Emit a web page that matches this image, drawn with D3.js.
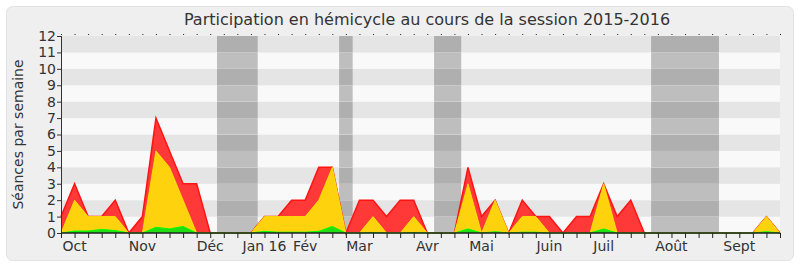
<!DOCTYPE html>
<html>
<head>
<meta charset="utf-8">
<script src="https://cdn.jsdelivr.net/npm/d3@7"></script>
<style>
  body { margin: 0; background: #fff; }
  svg { display: block; font-family: "DejaVu Sans", sans-serif; }
</style>
</head>
<body>
<div id="chart"></div>
<script>
// weekly values, one per week from late Sept 2015 (index 0) to Sept 2016 (index 53)
let presence = [1,3,1,1,2,0,1,7,5,3,3,0,0,0,0,1,1,2,2,4,4,0,2,2,1,2,2,0,0,0,4,1,2,0,2,1,1,0,1,1,3,1,2,0,0,0,0,0,0,0,0,0,1,0];
let interventions = [0,2,1,1,1,0,0,5,4,2,0,0,0,0,0,1,1,1,1,2,4,0,0,1,0,0,1,0,0,0,3,0,2,0,1,1,0,0,0,0,3,0,0,0,0,0,0,0,0,0,0,0,1,0];
let longues = [0,0.12,0.12,0.22,0.15,0,0,0.35,0.25,0.4,0,0,0,0,0,0.1,0.05,0.05,0.05,0.1,0.4,0,0,0.03,0,0,0.03,0,0,0,0.25,0,0.08,0,0.05,0.05,0,0,0,0,0.25,0,0,0,0,0,0,0,0,0,0,0,0.08,0];
let months = ["Oct","Nov","Déc","Jan 16","Fév","Mar","Avr","Mai","Juin","Juil","Août","Sept"];
let monthWeeks = [1,6,11,15,18,22,27,31,36,40,45,50];
let vacances = [[11.5,14.5],[20.5,21.5],[27.5,29.5],[43.5,48.5]];
let yTicks = d3.range(0,13);

let width = 800, height = 267;
let plotLeft = 61, plotRight = 780, plotTop = 36, plotBottom = 233;
let textColor = "#333";

let x = d3.scaleLinear().domain([0, presence.length-1]).range([plotLeft, plotRight]);
let y = d3.scaleLinear().domain([0, 12]).range([plotBottom, plotTop]);

let svg = d3.select("#chart")
  .append("svg")
  .attr("width", width)
  .attr("height", height);

svg.append("rect")
  .attr("x",6.5).attr("y",6.5)
  .attr("width",787).attr("height",254)
  .attr("rx",6)
  .style("fill","#efefef")
  .style("stroke","#e2e2e2");

// stripes
let bands = svg.append("g");
d3.range(0,12).forEach((v)=>{
  let dark = v % 2 === 1;
  bands.append("rect")
    .attr("x",plotLeft)
    .attr("y",y(v+1))
    .attr("width",plotRight-plotLeft)
    .attr("height",y(v)-y(v+1))
    .style("fill", dark ? "#e5e5e5" : "#f9f9f9");
  vacances.forEach((vac)=>{
    bands.append("rect")
      .attr("x",x(vac[0]))
      .attr("y",y(v+1))
      .attr("width",x(vac[1])-x(vac[0]))
      .attr("height",y(v)-y(v+1))
      .style("fill", dark ? "#afafaf" : "#bebebe");
  });
});

let area = d3.area()
  .x((d,i)=>x(i))
  .y0(y(0))
  .y1((d)=>y(d));
let line = d3.line()
  .x((d,i)=>x(i))
  .y((d)=>y(d));

let series = [
  {vals: presence, fill: "#ff3838", stroke: "#ff1414", w: 1.5, op: 1},
  {vals: interventions, fill: "#ffd20e", stroke: "#ffee00", w: 1, op: 0.8},
  {vals: longues, fill: "#22dd11", stroke: "#00ff00", w: 1, op: 1}
];
series.forEach((s)=>{
  svg.append("path")
    .attr("d", area(s.vals))
    .style("fill", s.fill);
  svg.append("path")
    .attr("d", line(s.vals))
    .style("fill","none")
    .style("stroke", s.stroke)
    .style("stroke-opacity", s.op)
    .style("stroke-width", s.w);
});

// axes
let xAxis = svg.append("g")
  .attr("transform","translate(0,"+plotBottom+")")
  .call(d3.axisBottom(x).tickValues(d3.range(0,presence.length)).tickSize(5).tickFormat(""));
xAxis.selectAll("line,path").style("stroke","#222");
xAxis.select(".domain").attr("d","M"+plotLeft+",0H"+plotRight).style("stroke-width",1.5);

let topAxis = svg.append("g")
  .attr("transform","translate(0,"+plotTop+")")
  .call(d3.axisTop(x).tickValues(d3.range(0,presence.length)).tickSize(2).tickFormat(""));
topAxis.select(".domain").remove();
topAxis.selectAll("line").style("stroke","#222").attr("y1",-1);

svg.append("g")
  .selectAll("text")
  .data(months)
  .join("text")
  .attr("x",(d,i)=>x(monthWeeks[i]))
  .attr("y",251)
  .attr("text-anchor","middle")
  .style("font-size","14px")
  .style("fill",textColor)
  .text((d)=>d);

let yAxis = svg.append("g")
  .attr("transform","translate("+plotLeft+",0)")
  .call(d3.axisLeft(y).tickValues(yTicks).tickSize(4).tickFormat(d3.format("d")));
yAxis.selectAll("line,path").style("stroke",textColor);
yAxis.select(".domain").attr("d","M0.5,"+plotTop+"V"+plotBottom);
yAxis.selectAll("text")
  .style("font-size","14px")
  .style("font-family","DejaVu Sans")
  .style("fill",textColor)
  .attr("x",-5);

svg.append("text")
  .attr("x",427)
  .attr("y",25)
  .attr("text-anchor","middle")
  .style("font-size","16px")
  .style("fill",textColor)
  .text("Participation en hémicycle au cours de la session 2015-2016");

svg.append("text")
  .attr("transform","translate(23,"+((plotTop+plotBottom)/2)+") rotate(-90)")
  .attr("text-anchor","middle")
  .style("font-size","14px")
  .style("fill",textColor)
  .text("Séances par semaine");
</script>
</body>
</html>
